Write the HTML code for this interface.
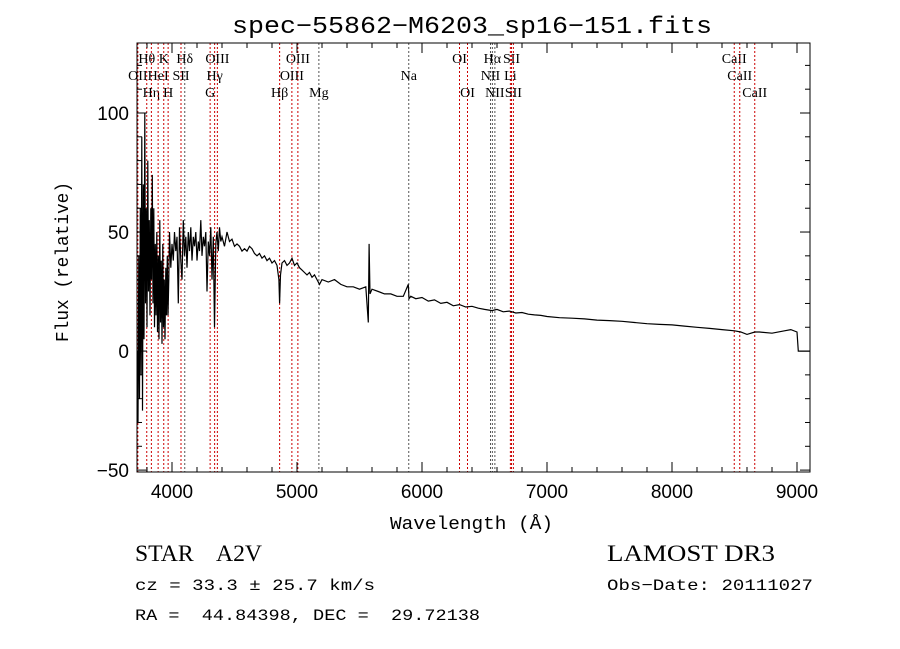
<!DOCTYPE html>
<html><head><meta charset="utf-8"><style>
body{margin:0;background:#fff;}
svg{display:block;font-family:"Liberation Mono","DejaVu Sans Mono",monospace;}
text{white-space:pre;}
</style></head><body>
<svg id="chart" width="900" height="649" viewBox="0 0 900 649">
<rect width="900" height="649" fill="#fff"/>
<text x="232" y="33" font-size="24" textLength="480" lengthAdjust="spacingAndGlyphs" fill="#000">spec−55862−M6203_sp16−151.fits</text>
<g id="lines"></g>
<g id="spec"></g>
<g id="axes"></g>
<text x="390" y="529" font-size="18" textLength="163" lengthAdjust="spacingAndGlyphs">Wavelength (Å)</text>
<text transform="translate(68,342) rotate(-90)" font-size="18" textLength="160" lengthAdjust="spacingAndGlyphs">Flux (relative)</text>
<g font-family="Liberation Serif, serif">
<text x="135" y="561" font-size="23" textLength="127" lengthAdjust="spacingAndGlyphs">STAR    A2V</text>
<text x="607" y="561" font-size="23" textLength="168" lengthAdjust="spacingAndGlyphs">LAMOST DR3</text>
</g>
<text x="135" y="590" font-size="16" textLength="240" lengthAdjust="spacingAndGlyphs">cz = 33.3 ± 25.7 km/s</text>
<text x="607" y="590" font-size="16" textLength="206" lengthAdjust="spacingAndGlyphs">Obs−Date: 20111027</text>
<text x="135" y="620" font-size="16" textLength="345" lengthAdjust="spacingAndGlyphs">RA =  44.84398, DEC =  29.72138</text>
</svg>
<script>
const waves=[3722,3728,3734,3740,3746,3752,3758,3764,3770,3776,3782,3788,3794,3800,3806,3812,3818,3824,3830,3836,3842,3848,3854,3860,3866,3872,3878,3884,3890,3896,3902,3908,3914,3920,3926,3932,3938,3944,3950,3956,3962,3968,3974,3980,3990,4000,4010,4020,4030,4040,4050,4060,4070,4080,4090,4100,4110,4120,4130,4140,4150,4160,4170,4180,4190,4200,4210,4220,4230,4240,4250,4260,4270,4280,4290,4300,4310,4320,4330,4340,4350,4360,4370,4380,4390,4400,4420,4440,4460,4480,4500,4520,4540,4560,4580,4600,4620,4640,4660,4680,4700,4720,4740,4760,4780,4800,4820,4840,4855,4861,4868,4880,4900,4920,4940,4960,4980,5000,5020,5040,5060,5080,5100,5120,5140,5160,5180,5200,5250,5300,5350,5400,5450,5500,5550,5570,5577,5584,5600,5650,5700,5750,5800,5850,5890,5896,5910,5950,6000,6050,6100,6150,6200,6250,6300,6350,6400,6450,6500,6560,6600,6650,6700,6750,6800,6850,6900,6950,7000,7100,7200,7300,7400,7500,7600,7700,7800,7900,8000,8100,8200,8300,8400,8500,8550,8600,8662,8700,8800,8900,8950,9000,9010,9100];
const flux=[0,-30,40,-20,60,-10,90,-25,70,5,100,20,60,10,80,25,55,15,60,30,74,20,60,10,45,15,50,8,40,5,55,12,38,3,45,10,30,5,35,15,40,15,30,50,35,45,38,50,42,48,20,52,38,30,55,40,48,35,50,42,52,38,48,44,50,38,46,42,55,40,48,44,50,25,46,40,52,30,48,10,45,50,42,52,46,48,44,50,46,47,44,45,44,42,43,42,44,43,41,40,41,39,40,38,39,37,38,36,30,20,32,37,38,36,37,39,36,37,35,34,33,32,33,31,32,30,28,30,29,30,28,27,27,26,27,12,45,24,26,25,24,24,23,23,28,22,23,22,22.5,21,21.5,20,20.5,19,19.5,18.5,18.8,18,17.5,17,17.5,16.5,16.8,16,16.2,15.5,15.2,15,14.5,14,13.8,13.5,13,12.8,12.5,12,11.5,11.2,11,10.5,10,9.5,9,8.5,8,7,8,8,7.5,8.5,9,8,0,0];
const lineNames=["OII","Hθ","Hη","HeI","K","H","SII","Hδ","G","Hγ","OIII","Hβ","OIII","OIII","Mg","Na","OI","OI","NII","Hα","NII","Li","SII","SII","CaII","CaII","CaII"];
const lineWaves=[3727,3798,3835,3889,3934,3969,4072,4102,4305,4341,4363,4861,4959,5007,5175,5894,6300,6364,6548,6563,6583,6707,6716,6731,8498,8542,8662];
const lineRows=[1,0,2,1,0,2,1,0,2,1,0,2,1,0,2,1,0,2,1,0,2,1,0,2,0,1,2];
const xTicks=[4000,5000,6000,7000,8000,9000];
const yTicks=[-50,0,50,100];
const X0=137,X1=810,Y0=43,Y1=472,WMIN=3720,WMAX=9104,FMIN=-50.8,FMAX=129.4;
const sx=w=>X0+(w-WMIN)/(WMAX-WMIN)*(X1-X0);
const sy=f=>Y1-(f-FMIN)/(FMAX-FMIN)*(Y1-Y0);
const NS="http://www.w3.org/2000/svg";
function mk(t,a,p){const e=document.createElementNS(NS,t);for(const k in a)e.setAttribute(k,a[k]);p.appendChild(e);return e;}
const L=document.getElementById('lines'),S=document.getElementById('spec'),A=document.getElementById('axes');
lineWaves.forEach((w,i)=>{
 const x=sx(w);
 const gray=(lineNames[i]=="Na"||lineNames[i]=="Mg"||lineNames[i]=="NII"||lineNames[i]=="Hα"||lineNames[i]=="Hδ");
 const l=mk('line',{x1:x,x2:x,y1:Y0,y2:Y1,stroke:gray?'#555':'#c00','stroke-width':1,'stroke-dasharray':'2,2'},L);
 
 
 const t=mk('text',{x:x,y:63+lineRows[i]*17,'font-size':14,'text-anchor':'middle','font-family':'Liberation Serif, serif'},L);
 t.textContent=lineNames[i];
 
 
});
let d='';waves.forEach((w,i)=>{d+=(i?'L':'M')+sx(w).toFixed(1)+','+sy(flux[i]).toFixed(1);});
const p=mk('path',{d:d,fill:'none',stroke:'#000','stroke-width':1.2},S);


const fr=mk('rect',{x:X0,y:Y0,width:X1-X0,height:Y1-Y0,fill:'none',stroke:'#000','stroke-width':1},A);


for(let w=3800;w<=9100;w+=200){const x=sx(w),big=w%1000==0,h=big?10:5;
 mk('line',{x1:x,x2:x,y1:Y1,y2:Y1-h,stroke:'#000'},A);mk('line',{x1:x,x2:x,y1:Y0,y2:Y0+h,stroke:'#000'},A);}
for(let f=-50;f<=120;f+=10){const y=sy(f),big=f%50==0,h=big?10:5;
 mk('line',{x1:X0,x2:X0+h,y1:y,y2:y,stroke:'#000'},A);mk('line',{x1:X1,x2:X1-h,y1:y,y2:y,stroke:'#000'},A);}
xTicks.forEach(v=>{const t=mk('text',{x:sx(v),y:Y1+26,'font-size':19,'text-anchor':'middle','font-family':'Liberation Sans, sans-serif'},A);t.textContent=v;
 
 });
yTicks.forEach(v=>{const t=mk('text',{x:X0-8,y:sy(v)+7,'font-size':19,'text-anchor':'end','font-family':'Liberation Sans, sans-serif'},A);t.textContent=v<0?'−'+(-v):v;
 
 });
</script>
</body></html>
